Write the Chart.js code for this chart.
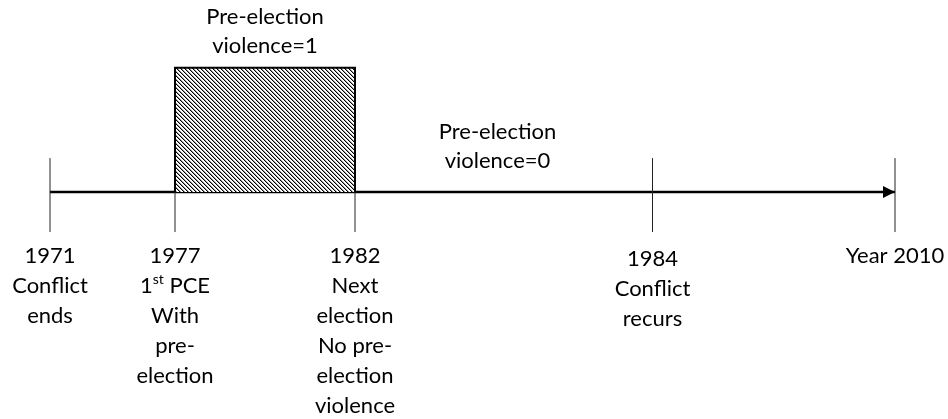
<!DOCTYPE html>
<html>
<head>
<meta charset="utf-8">
<script src="https://cdn.jsdelivr.net/npm/chart.js@4.4.1/dist/chart.umd.min.js"></script>
<style>
  html, body { margin: 0; padding: 0; background: #fff; }
  canvas { display: block; }
</style>
</head>
<body>
<canvas id="timeline" width="948" height="419"></canvas>
<script>
// Schematic timeline positions (not to scale), one per event
const eventPos    = [0, 1, 2.44, 4.82, 6.76];
const eventLabels = [
	['1971', 'Conflict', 'ends'],
	['1977', '1^st PCE', 'With', 'pre-', 'election'],
	['1982', 'Next', 'election', 'No pre-', 'election', 'violence'],
	['1984', 'Conflict', 'recurs'],
	['Year 2010']
];
// Shaded period: first PCE -> next election
const violentSpan   = [1, 2.44];
const violentHeight = 1;
// Annotations above the line (x, baseline of first line in data units)
const noteX     = [1.72, 3.58];
const noteY     = [1.35, 0.43];
const noteLines = [
	['Pre-election', 'violence=1'],
	['Pre-election', 'violence=0']
];

const FONT      = '22px Lato';
const SUP_FONT  = '14px Lato';
const LINE_H    = 30;   // px between text lines
const LABEL_TOP = 71;   // px from axis to first label baseline
const LABEL_NUDGE = [0, 0, 0, 3, 0];
const TICK_UP   = 0.273;
const TICK_DOWN = -0.322;

function hatchPattern() {
	const p = document.createElement('canvas');
	p.width = 4; p.height = 4;
	const g = p.getContext('2d');
	g.fillStyle = '#fff';
	g.fillRect(0, 0, 4, 4);
	for (let i = 0; i < 4; i++) {
		g.fillStyle = '#000';
		g.fillRect(i, i, 1, 1);
		g.fillStyle = '#999';
		g.fillRect((i + 1) % 4, i, 1, 1);
	}
	return g.createPattern(p, 'repeat');
}

function drawLine(ctx, text, cx, y) {
	if (!text.includes('^')) {
		ctx.font = FONT;
		ctx.textAlign = 'center';
		ctx.fillText(text, cx, y);
		return;
	}
	// "base^sup rest" -> superscript piece
	const [base, tail] = text.split('^');
	const sp   = tail.indexOf(' ');
	const sup  = tail.slice(0, sp);
	const rest = tail.slice(sp);
	ctx.font = FONT;
	const wb = ctx.measureText(base).width;
	const wr = ctx.measureText(rest).width;
	ctx.font = SUP_FONT;
	const ws = ctx.measureText(sup).width;
	let x = cx - (wb + ws + wr) / 2;
	ctx.textAlign = 'left';
	ctx.font = FONT;
	ctx.fillText(base, x, y); x += wb;
	ctx.font = SUP_FONT;
	ctx.fillText(sup, x, y - 9); x += ws;
	ctx.font = FONT;
	ctx.fillText(rest, x, y);
}

const textPlugin = {
	id: 'timelineText',
	afterDraw(chart) {
		const { ctx, scales: { x, y } } = chart;
		const axisY = y.getPixelForValue(0);
		ctx.save();
		ctx.fillStyle = '#000';
		ctx.textBaseline = 'alphabetic';

		// arrow head at the end of the time axis
		const tip = x.getPixelForValue(eventPos[eventPos.length - 1]);
		ctx.beginPath();
		ctx.moveTo(tip, axisY);
		ctx.lineTo(tip - 12, axisY - 6);
		ctx.lineTo(tip - 12, axisY + 6);
		ctx.closePath();
		ctx.fill();

		eventLabels.forEach((lines, i) => {
			const cx = x.getPixelForValue(eventPos[i]);
			lines.forEach((t, j) => drawLine(ctx, t, cx, axisY + LABEL_TOP + LABEL_NUDGE[i] + j * LINE_H));
		});
		noteLines.forEach((lines, i) => {
			const cx = x.getPixelForValue(noteX[i]);
			const by = y.getPixelForValue(noteY[i]);
			lines.forEach((t, j) => drawLine(ctx, t, cx, by + j * 29));
		});
		ctx.restore();
	}
};

function buildChart() {
	const ctx = document.getElementById('timeline').getContext('2d');

	const tickData = eventPos.flatMap(p => [
		{ x: p, y: TICK_DOWN }, { x: p, y: TICK_UP }, { x: p, y: null }
	]);

	new Chart(ctx, {
		type: 'scatter',
		data: {
			datasets: [
				{
					// shaded pre-election violence period
					data: [
						{ x: violentSpan[0], y: 0 },
						{ x: violentSpan[0], y: violentHeight },
						{ x: violentSpan[1], y: violentHeight },
						{ x: violentSpan[1], y: 0 }
					],
					showLine: true,
					fill: 'origin',
					backgroundColor: hatchPattern(),
					borderColor: '#000',
					borderWidth: 2,
					pointRadius: 0,
					tension: 0
				},
				{
					// event ticks
					data: tickData,
					showLine: true,
					spanGaps: false,
					borderColor: '#222',
					borderWidth: 1,
					pointRadius: 0
				},
				{
					// time axis
					data: [{ x: eventPos[0], y: 0 }, { x: eventPos[eventPos.length - 1], y: 0 }],
					showLine: true,
					borderColor: '#000',
					borderWidth: 2.5,
					pointRadius: 0
				}
			]
		},
		options: {
			responsive: false,
			animation: false,
			devicePixelRatio: 1,
			layout: { padding: 0 },
			plugins: {
				legend: { display: false },
				tooltip: { enabled: false }
			},
			scales: {
				x: { type: 'linear', display: false, min: -0.4, max: 7.184 },
				y: { type: 'linear', display: false, min: -1.826, max: 1.545 }
			}
		},
		plugins: [textPlugin]
	});
}

document.fonts.load(FONT).then(buildChart, buildChart);
</script>
</body>
</html>
